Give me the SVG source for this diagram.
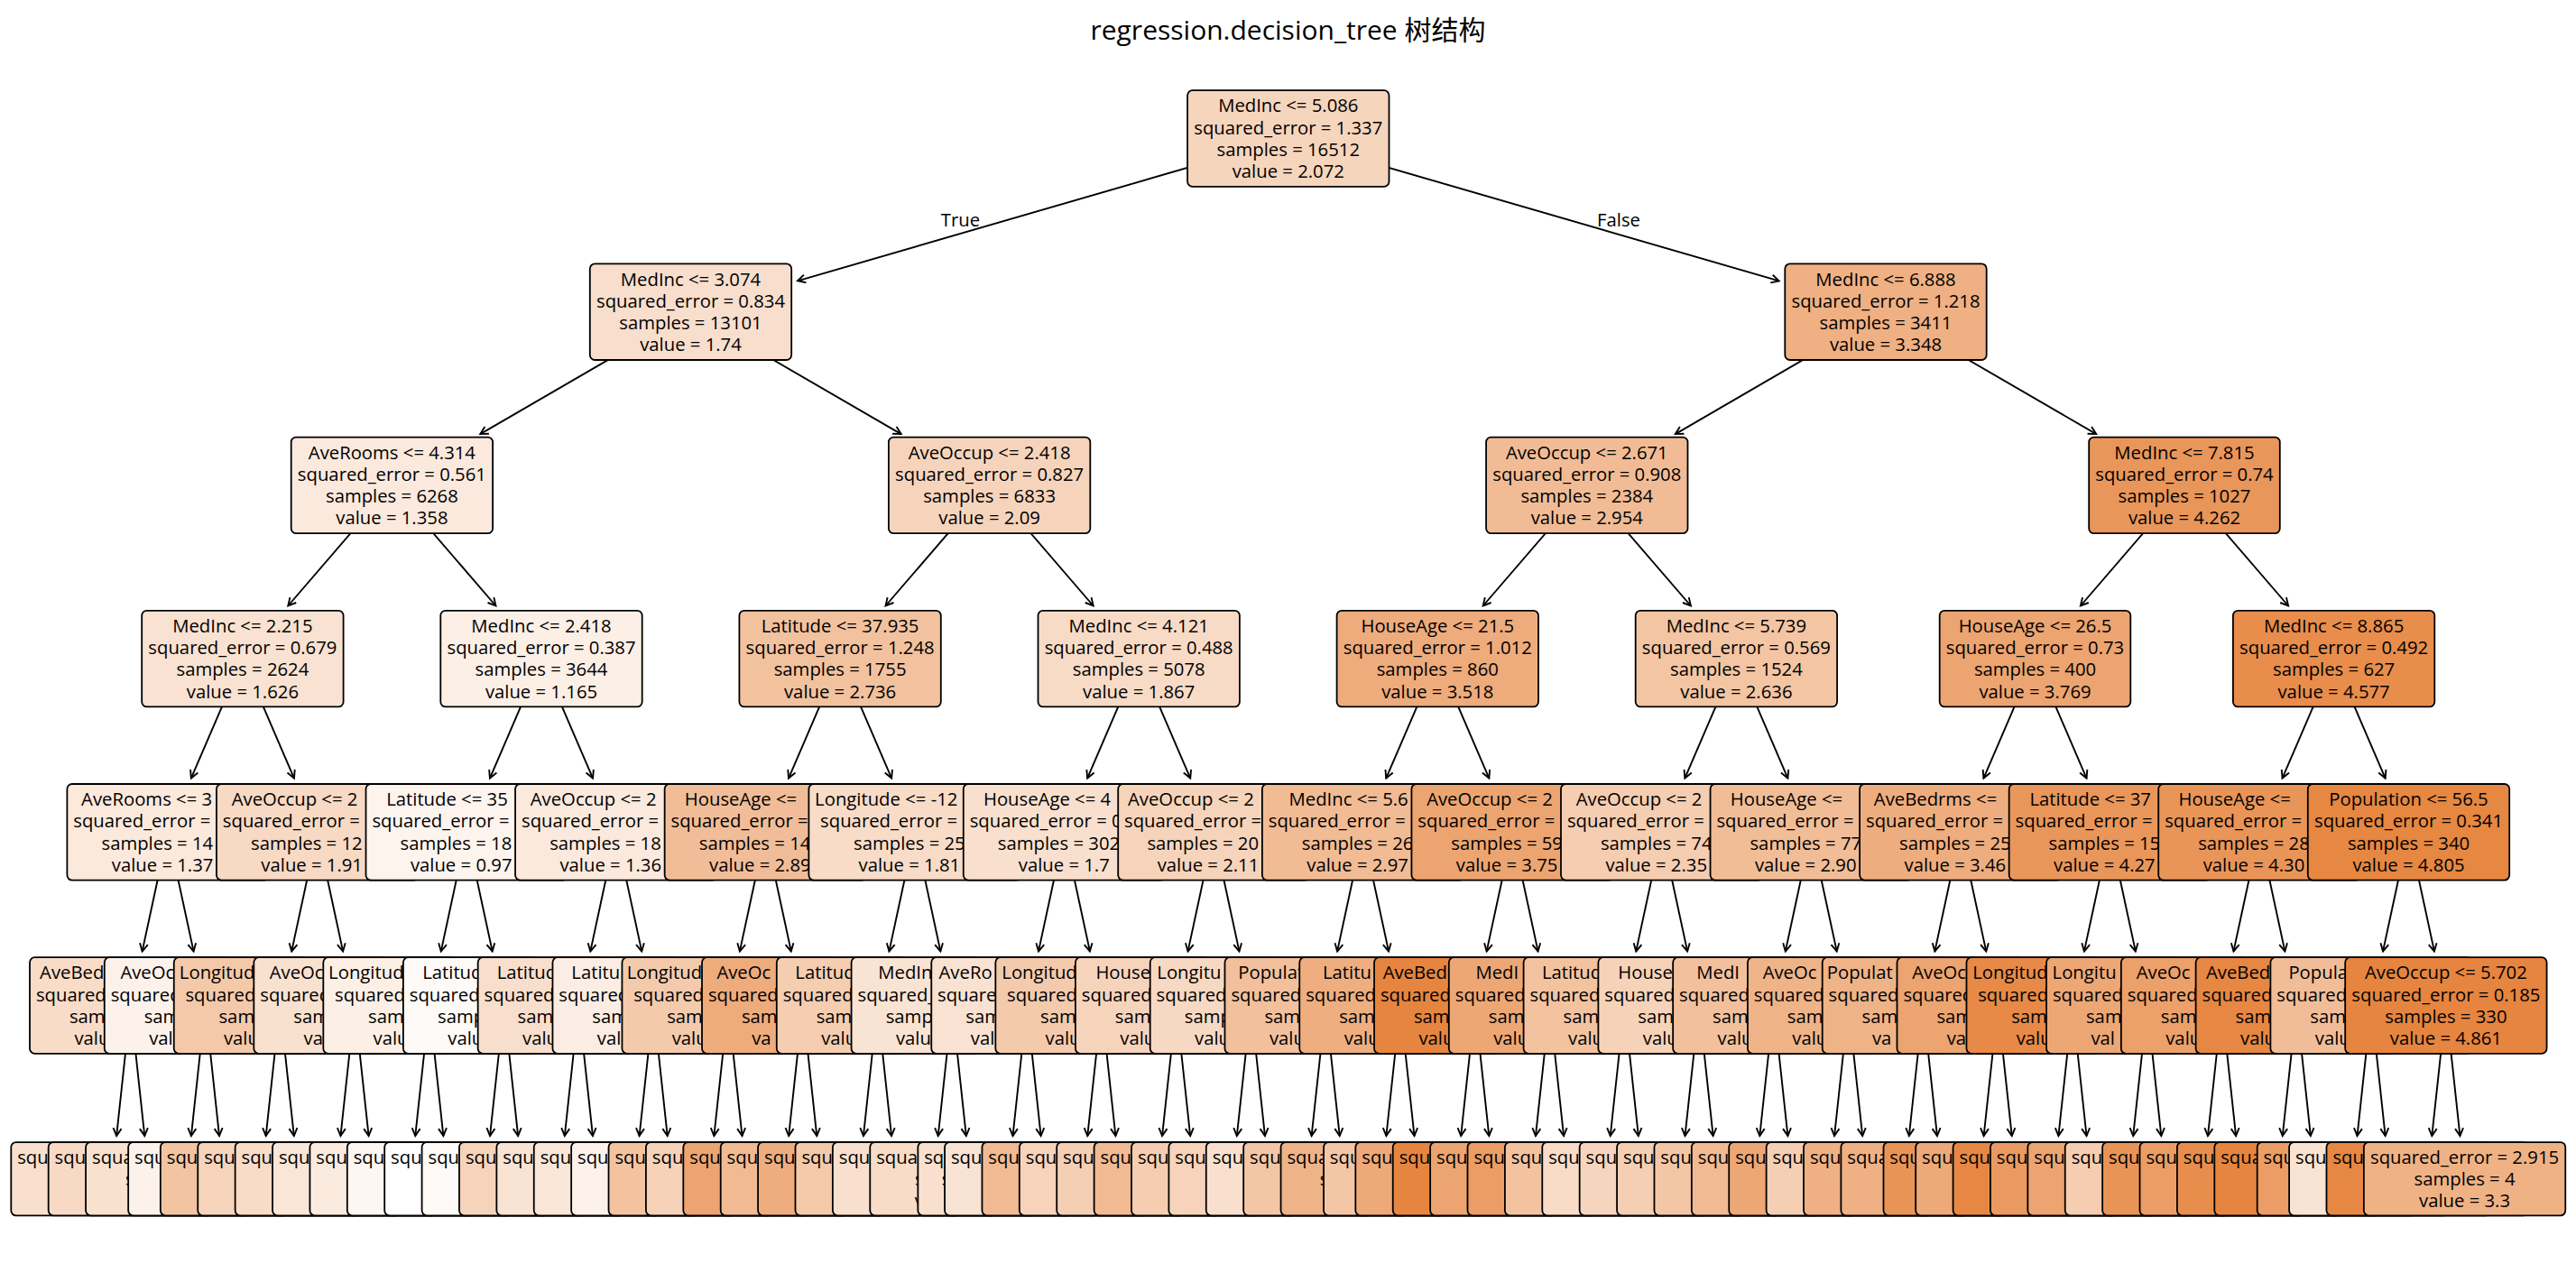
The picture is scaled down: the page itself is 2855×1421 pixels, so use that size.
<svg xmlns="http://www.w3.org/2000/svg" width="2855" height="1421" viewBox="0 0 2855 1421">
<defs>
<style>
.b{stroke:#000;stroke-width:1.8;rx:5.5px;ry:5.5px}
.t{font-family:"Open Sans","Noto Sans",sans-serif;font-size:20.3px;fill:#000}
.m{text-anchor:middle}
.ttl{font-family:"Open Sans","Noto Sans CJK SC",sans-serif;font-size:30px;fill:#000;text-anchor:middle}
#connectors line{stroke:#000;stroke-width:1.9;fill:none;marker-end:url(#ah)}
</style>
<marker id="ah" viewBox="-10 -6 12 12" markerWidth="12" markerHeight="12" refX="0" refY="0" orient="auto" markerUnits="userSpaceOnUse"><path d="M-8.5,-4.5 L0,0 L-8.5,4.5" fill="none" stroke="#000" stroke-width="1.9"/></marker>
</defs>
<rect width="2855" height="1421" fill="#fff"/>
<text class="ttl" x="1427.5" y="44">regression.decision_tree 树结构</text>
<g id="connectors">
<line x1="1427.8" y1="153.5" x2="884" y2="311.3"/>
<line x1="1427.8" y1="153.5" x2="1971.7" y2="311.4"/>
<line x1="765.5" y1="345.7" x2="532.3" y2="481.1"/>
<line x1="765.5" y1="345.7" x2="998.7" y2="481.1"/>
<line x1="2090" y1="345.7" x2="1856.8" y2="481.1"/>
<line x1="2090" y1="345.7" x2="2323.2" y2="481.1"/>
<line x1="434.4" y1="537.9" x2="319.3" y2="671.5"/>
<line x1="434.4" y1="537.9" x2="549.5" y2="671.5"/>
<line x1="1096.6" y1="537.9" x2="981.5" y2="671.5"/>
<line x1="1096.6" y1="537.9" x2="1211.7" y2="671.5"/>
<line x1="1758.8" y1="537.9" x2="1643.7" y2="671.5"/>
<line x1="1758.8" y1="537.9" x2="1873.9" y2="671.5"/>
<line x1="2421" y1="537.9" x2="2305.9" y2="671.5"/>
<line x1="2421" y1="537.9" x2="2536.1" y2="671.5"/>
<line x1="268.9" y1="730.1" x2="211.84" y2="862.6"/>
<line x1="268.9" y1="730.1" x2="325.96" y2="862.6"/>
<line x1="600" y1="730.1" x2="542.94" y2="862.6"/>
<line x1="600" y1="730.1" x2="657.06" y2="862.6"/>
<line x1="931.1" y1="730.1" x2="874.04" y2="862.6"/>
<line x1="931.1" y1="730.1" x2="988.16" y2="862.6"/>
<line x1="1262.2" y1="730.1" x2="1205.14" y2="862.6"/>
<line x1="1262.2" y1="730.1" x2="1319.26" y2="862.6"/>
<line x1="1593.3" y1="730.1" x2="1536.24" y2="862.6"/>
<line x1="1593.3" y1="730.1" x2="1650.36" y2="862.6"/>
<line x1="1924.4" y1="730.1" x2="1867.34" y2="862.6"/>
<line x1="1924.4" y1="730.1" x2="1981.46" y2="862.6"/>
<line x1="2255.5" y1="730.1" x2="2198.44" y2="862.6"/>
<line x1="2255.5" y1="730.1" x2="2312.56" y2="862.6"/>
<line x1="2586.6" y1="730.1" x2="2529.54" y2="862.6"/>
<line x1="2586.6" y1="730.1" x2="2643.66" y2="862.6"/>
<line x1="186.1" y1="922.3" x2="157.66" y2="1054.4"/>
<line x1="186.1" y1="922.3" x2="214.54" y2="1054.4"/>
<line x1="351.66" y1="922.3" x2="323.22" y2="1054.4"/>
<line x1="351.66" y1="922.3" x2="380.1" y2="1054.4"/>
<line x1="517.22" y1="922.3" x2="488.78" y2="1054.4"/>
<line x1="517.22" y1="922.3" x2="545.66" y2="1054.4"/>
<line x1="682.78" y1="922.3" x2="654.34" y2="1054.4"/>
<line x1="682.78" y1="922.3" x2="711.22" y2="1054.4"/>
<line x1="848.34" y1="922.3" x2="819.9" y2="1054.4"/>
<line x1="848.34" y1="922.3" x2="876.78" y2="1054.4"/>
<line x1="1013.9" y1="922.3" x2="985.46" y2="1054.4"/>
<line x1="1013.9" y1="922.3" x2="1042.34" y2="1054.4"/>
<line x1="1179.46" y1="922.3" x2="1151.02" y2="1054.4"/>
<line x1="1179.46" y1="922.3" x2="1207.9" y2="1054.4"/>
<line x1="1345.02" y1="922.3" x2="1316.58" y2="1054.4"/>
<line x1="1345.02" y1="922.3" x2="1373.46" y2="1054.4"/>
<line x1="1510.58" y1="922.3" x2="1482.14" y2="1054.4"/>
<line x1="1510.58" y1="922.3" x2="1539.02" y2="1054.4"/>
<line x1="1676.14" y1="922.3" x2="1647.7" y2="1054.4"/>
<line x1="1676.14" y1="922.3" x2="1704.58" y2="1054.4"/>
<line x1="1841.7" y1="922.3" x2="1813.26" y2="1054.4"/>
<line x1="1841.7" y1="922.3" x2="1870.14" y2="1054.4"/>
<line x1="2007.26" y1="922.3" x2="1978.82" y2="1054.4"/>
<line x1="2007.26" y1="922.3" x2="2035.7" y2="1054.4"/>
<line x1="2172.82" y1="922.3" x2="2144.38" y2="1054.4"/>
<line x1="2172.82" y1="922.3" x2="2201.26" y2="1054.4"/>
<line x1="2338.38" y1="922.3" x2="2309.94" y2="1054.4"/>
<line x1="2338.38" y1="922.3" x2="2366.82" y2="1054.4"/>
<line x1="2503.94" y1="922.3" x2="2475.5" y2="1054.4"/>
<line x1="2503.94" y1="922.3" x2="2532.38" y2="1054.4"/>
<line x1="2669.5" y1="922.3" x2="2641.06" y2="1054.4"/>
<line x1="2669.5" y1="922.3" x2="2697.94" y2="1054.4"/>
<line x1="144.7" y1="1114.5" x2="129.13" y2="1259.1"/>
<line x1="144.7" y1="1114.5" x2="160.27" y2="1259.1"/>
<line x1="227.48" y1="1114.5" x2="211.91" y2="1259.1"/>
<line x1="227.48" y1="1114.5" x2="243.05" y2="1259.1"/>
<line x1="310.26" y1="1114.5" x2="294.69" y2="1259.1"/>
<line x1="310.26" y1="1114.5" x2="325.83" y2="1259.1"/>
<line x1="393.04" y1="1114.5" x2="377.47" y2="1259.1"/>
<line x1="393.04" y1="1114.5" x2="408.61" y2="1259.1"/>
<line x1="475.82" y1="1114.5" x2="460.25" y2="1259.1"/>
<line x1="475.82" y1="1114.5" x2="491.39" y2="1259.1"/>
<line x1="558.6" y1="1114.5" x2="543.03" y2="1259.1"/>
<line x1="558.6" y1="1114.5" x2="574.17" y2="1259.1"/>
<line x1="641.38" y1="1114.5" x2="625.81" y2="1259.1"/>
<line x1="641.38" y1="1114.5" x2="656.95" y2="1259.1"/>
<line x1="724.16" y1="1114.5" x2="708.59" y2="1259.1"/>
<line x1="724.16" y1="1114.5" x2="739.73" y2="1259.1"/>
<line x1="806.94" y1="1114.5" x2="791.37" y2="1259.1"/>
<line x1="806.94" y1="1114.5" x2="822.51" y2="1259.1"/>
<line x1="889.72" y1="1114.5" x2="874.15" y2="1259.1"/>
<line x1="889.72" y1="1114.5" x2="905.29" y2="1259.1"/>
<line x1="972.5" y1="1114.5" x2="956.93" y2="1259.1"/>
<line x1="972.5" y1="1114.5" x2="988.07" y2="1259.1"/>
<line x1="1055.28" y1="1114.5" x2="1039.71" y2="1259.1"/>
<line x1="1055.28" y1="1114.5" x2="1070.85" y2="1259.1"/>
<line x1="1138.06" y1="1114.5" x2="1122.49" y2="1259.1"/>
<line x1="1138.06" y1="1114.5" x2="1153.63" y2="1259.1"/>
<line x1="1220.84" y1="1114.5" x2="1205.27" y2="1259.1"/>
<line x1="1220.84" y1="1114.5" x2="1236.41" y2="1259.1"/>
<line x1="1303.62" y1="1114.5" x2="1288.05" y2="1259.1"/>
<line x1="1303.62" y1="1114.5" x2="1319.19" y2="1259.1"/>
<line x1="1386.4" y1="1114.5" x2="1370.83" y2="1259.1"/>
<line x1="1386.4" y1="1114.5" x2="1401.97" y2="1259.1"/>
<line x1="1469.18" y1="1114.5" x2="1453.61" y2="1259.1"/>
<line x1="1469.18" y1="1114.5" x2="1484.75" y2="1259.1"/>
<line x1="1551.96" y1="1114.5" x2="1536.39" y2="1259.1"/>
<line x1="1551.96" y1="1114.5" x2="1567.53" y2="1259.1"/>
<line x1="1634.74" y1="1114.5" x2="1619.17" y2="1259.1"/>
<line x1="1634.74" y1="1114.5" x2="1650.31" y2="1259.1"/>
<line x1="1717.52" y1="1114.5" x2="1701.95" y2="1259.1"/>
<line x1="1717.52" y1="1114.5" x2="1733.09" y2="1259.1"/>
<line x1="1800.3" y1="1114.5" x2="1784.73" y2="1259.1"/>
<line x1="1800.3" y1="1114.5" x2="1815.87" y2="1259.1"/>
<line x1="1883.08" y1="1114.5" x2="1867.51" y2="1259.1"/>
<line x1="1883.08" y1="1114.5" x2="1898.65" y2="1259.1"/>
<line x1="1965.86" y1="1114.5" x2="1950.29" y2="1259.1"/>
<line x1="1965.86" y1="1114.5" x2="1981.43" y2="1259.1"/>
<line x1="2048.64" y1="1114.5" x2="2033.07" y2="1259.1"/>
<line x1="2048.64" y1="1114.5" x2="2064.21" y2="1259.1"/>
<line x1="2131.42" y1="1114.5" x2="2115.85" y2="1259.1"/>
<line x1="2131.42" y1="1114.5" x2="2146.99" y2="1259.1"/>
<line x1="2214.2" y1="1114.5" x2="2198.63" y2="1259.1"/>
<line x1="2214.2" y1="1114.5" x2="2229.77" y2="1259.1"/>
<line x1="2296.98" y1="1114.5" x2="2281.41" y2="1259.1"/>
<line x1="2296.98" y1="1114.5" x2="2312.55" y2="1259.1"/>
<line x1="2379.76" y1="1114.5" x2="2364.19" y2="1259.1"/>
<line x1="2379.76" y1="1114.5" x2="2395.33" y2="1259.1"/>
<line x1="2462.54" y1="1114.5" x2="2446.97" y2="1259.1"/>
<line x1="2462.54" y1="1114.5" x2="2478.11" y2="1259.1"/>
<line x1="2545.32" y1="1114.5" x2="2529.75" y2="1259.1"/>
<line x1="2545.32" y1="1114.5" x2="2560.89" y2="1259.1"/>
<line x1="2628.1" y1="1114.5" x2="2612.53" y2="1259.1"/>
<line x1="2628.1" y1="1114.5" x2="2643.67" y2="1259.1"/>
<line x1="2710.88" y1="1114.5" x2="2695.31" y2="1259.1"/>
<line x1="2710.88" y1="1114.5" x2="2726.45" y2="1259.1"/>
</g>
<g id="edge-labels">
<text class="t m" x="1064.5" y="251">True</text>
<text class="t m" x="1794" y="251">False</text>
</g>
<g id="nodes">
<g id="d0_0"><rect class="b" x="1316.1" y="100.2" width="223.4" height="106.6" fill="#f6d5bd"/><text class="t m"><tspan x="1427.8" y="124.3">MedInc &lt;= 5.086</tspan><tspan x="1427.8" y="148.5">squared_error = 1.337</tspan><tspan x="1427.8" y="172.7">samples = 16512</tspan><tspan x="1427.8" y="196.9">value = 2.072</tspan></text></g>
<g id="d1_0"><rect class="b" x="653.8" y="292.4" width="223.4" height="106.6" fill="#f8decc"/><text class="t m"><tspan x="765.5" y="316.5">MedInc &lt;= 3.074</tspan><tspan x="765.5" y="340.7">squared_error = 0.834</tspan><tspan x="765.5" y="364.9">samples = 13101</tspan><tspan x="765.5" y="389.1">value = 1.74</tspan></text></g>
<g id="d1_1"><rect class="b" x="1978.3" y="292.4" width="223.4" height="106.6" fill="#efb083"/><text class="t m"><tspan x="2090" y="316.5">MedInc &lt;= 6.888</tspan><tspan x="2090" y="340.7">squared_error = 1.218</tspan><tspan x="2090" y="364.9">samples = 3411</tspan><tspan x="2090" y="389.1">value = 3.348</tspan></text></g>
<g id="d2_0"><rect class="b" x="322.7" y="484.6" width="223.4" height="106.6" fill="#fbe9dd"/><text class="t m"><tspan x="434.4" y="508.7">AveRooms &lt;= 4.314</tspan><tspan x="434.4" y="532.9">squared_error = 0.561</tspan><tspan x="434.4" y="557.1">samples = 6268</tspan><tspan x="434.4" y="581.3">value = 1.358</tspan></text></g>
<g id="d2_1"><rect class="b" x="984.9" y="484.6" width="223.4" height="106.6" fill="#f6d4bc"/><text class="t m"><tspan x="1096.6" y="508.7">AveOccup &lt;= 2.418</tspan><tspan x="1096.6" y="532.9">squared_error = 0.827</tspan><tspan x="1096.6" y="557.1">samples = 6833</tspan><tspan x="1096.6" y="581.3">value = 2.09</tspan></text></g>
<g id="d2_2"><rect class="b" x="1647.1" y="484.6" width="223.4" height="106.6" fill="#f1bc95"/><text class="t m"><tspan x="1758.8" y="508.7">AveOccup &lt;= 2.671</tspan><tspan x="1758.8" y="532.9">squared_error = 0.908</tspan><tspan x="1758.8" y="557.1">samples = 2384</tspan><tspan x="1758.8" y="581.3">value = 2.954</tspan></text></g>
<g id="d2_3"><rect class="b" x="2315.2" y="484.6" width="211.6" height="106.6" fill="#e9965a"/><text class="t m"><tspan x="2421" y="508.7">MedInc &lt;= 7.815</tspan><tspan x="2421" y="532.9">squared_error = 0.74</tspan><tspan x="2421" y="557.1">samples = 1027</tspan><tspan x="2421" y="581.3">value = 4.262</tspan></text></g>
<g id="d3_0"><rect class="b" x="157.2" y="676.8" width="223.4" height="106.6" fill="#f9e2d1"/><text class="t m"><tspan x="268.9" y="700.9">MedInc &lt;= 2.215</tspan><tspan x="268.9" y="725.1">squared_error = 0.679</tspan><tspan x="268.9" y="749.3">samples = 2624</tspan><tspan x="268.9" y="773.5">value = 1.626</tspan></text></g>
<g id="d3_1"><rect class="b" x="488.3" y="676.8" width="223.4" height="106.6" fill="#fcefe6"/><text class="t m"><tspan x="600" y="700.9">MedInc &lt;= 2.418</tspan><tspan x="600" y="725.1">squared_error = 0.387</tspan><tspan x="600" y="749.3">samples = 3644</tspan><tspan x="600" y="773.5">value = 1.165</tspan></text></g>
<g id="d3_2"><rect class="b" x="819.4" y="676.8" width="223.4" height="106.6" fill="#f2c29f"/><text class="t m"><tspan x="931.1" y="700.9">Latitude &lt;= 37.935</tspan><tspan x="931.1" y="725.1">squared_error = 1.248</tspan><tspan x="931.1" y="749.3">samples = 1755</tspan><tspan x="931.1" y="773.5">value = 2.736</tspan></text></g>
<g id="d3_3"><rect class="b" x="1150.5" y="676.8" width="223.4" height="106.6" fill="#f8dbc6"/><text class="t m"><tspan x="1262.2" y="700.9">MedInc &lt;= 4.121</tspan><tspan x="1262.2" y="725.1">squared_error = 0.488</tspan><tspan x="1262.2" y="749.3">samples = 5078</tspan><tspan x="1262.2" y="773.5">value = 1.867</tspan></text></g>
<g id="d3_4"><rect class="b" x="1481.6" y="676.8" width="223.4" height="106.6" fill="#eeab7c"/><text class="t m"><tspan x="1593.3" y="700.9">HouseAge &lt;= 21.5</tspan><tspan x="1593.3" y="725.1">squared_error = 1.012</tspan><tspan x="1593.3" y="749.3">samples = 860</tspan><tspan x="1593.3" y="773.5">value = 3.518</tspan></text></g>
<g id="d3_5"><rect class="b" x="1812.7" y="676.8" width="223.4" height="106.6" fill="#f3c5a3"/><text class="t m"><tspan x="1924.4" y="700.9">MedInc &lt;= 5.739</tspan><tspan x="1924.4" y="725.1">squared_error = 0.569</tspan><tspan x="1924.4" y="749.3">samples = 1524</tspan><tspan x="1924.4" y="773.5">value = 2.636</tspan></text></g>
<g id="d3_6"><rect class="b" x="2149.7" y="676.8" width="211.6" height="106.6" fill="#eca470"/><text class="t m"><tspan x="2255.5" y="700.9">HouseAge &lt;= 26.5</tspan><tspan x="2255.5" y="725.1">squared_error = 0.73</tspan><tspan x="2255.5" y="749.3">samples = 400</tspan><tspan x="2255.5" y="773.5">value = 3.769</tspan></text></g>
<g id="d3_7"><rect class="b" x="2474.9" y="676.8" width="223.4" height="106.6" fill="#e88d4c"/><text class="t m"><tspan x="2586.6" y="700.9">MedInc &lt;= 8.865</tspan><tspan x="2586.6" y="725.1">squared_error = 0.492</tspan><tspan x="2586.6" y="749.3">samples = 627</tspan><tspan x="2586.6" y="773.5">value = 4.577</tspan></text></g>
<g id="d4_0"><rect class="b" x="74.4" y="869" width="223.4" height="106.6" fill="#fbe9dc"/><text class="t"><tspan x="90.1" y="893.1">AveRooms &lt;= 3</tspan><tspan x="81.3" y="917.3">squared_error =</tspan><tspan x="112.5" y="941.5">samples = 14</tspan><tspan x="123.8" y="965.7">value = 1.37</tspan></text></g>
<g id="d4_1"><rect class="b" x="239.96" y="869" width="223.4" height="106.6" fill="#f7d9c4"/><text class="t"><tspan x="256.7" y="893.1">AveOccup &lt;= 2</tspan><tspan x="246.86" y="917.3">squared_error =</tspan><tspan x="278.06" y="941.5">samples = 12</tspan><tspan x="289.36" y="965.7">value = 1.91</tspan></text></g>
<g id="d4_2"><rect class="b" x="405.52" y="869" width="223.4" height="106.6" fill="#fdf4ee"/><text class="t"><tspan x="428.2" y="893.1">Latitude &lt;= 35</tspan><tspan x="412.42" y="917.3">squared_error =</tspan><tspan x="443.62" y="941.5">samples = 18</tspan><tspan x="454.92" y="965.7">value = 0.97</tspan></text></g>
<g id="d4_3"><rect class="b" x="571.08" y="869" width="223.4" height="106.6" fill="#fbe9dd"/><text class="t"><tspan x="587.78" y="893.1">AveOccup &lt;= 2</tspan><tspan x="577.98" y="917.3">squared_error =</tspan><tspan x="609.18" y="941.5">samples = 18</tspan><tspan x="620.48" y="965.7">value = 1.36</tspan></text></g>
<g id="d4_4"><rect class="b" x="736.64" y="869" width="223.4" height="106.6" fill="#f1bd98"/><text class="t"><tspan x="758.84" y="893.1">HouseAge &lt;=</tspan><tspan x="743.54" y="917.3">squared_error =</tspan><tspan x="774.74" y="941.5">samples = 14</tspan><tspan x="786.04" y="965.7">value = 2.89</tspan></text></g>
<g id="d4_5"><rect class="b" x="896.4" y="869" width="235" height="106.6" fill="#f8dcc8"/><text class="t"><tspan x="903.1" y="893.1">Longitude &lt;= -12</tspan><tspan x="909.1" y="917.3">squared_error =</tspan><tspan x="946.1" y="941.5">samples = 25</tspan><tspan x="951.6" y="965.7">value = 1.81</tspan></text></g>
<g id="d4_6"><rect class="b" x="1067.76" y="869" width="223.4" height="106.6" fill="#f9e0ce"/><text class="t"><tspan x="1089.96" y="893.1">HouseAge &lt;= 4</tspan><tspan x="1074.66" y="917.3">squared_error = 0</tspan><tspan x="1105.86" y="941.5">samples = 302</tspan><tspan x="1128.8" y="965.7">value = 1.7</tspan></text></g>
<g id="d4_7"><rect class="b" x="1239.22" y="869" width="211.6" height="106.6" fill="#f6d4bb"/><text class="t"><tspan x="1250.02" y="893.1">AveOccup &lt;= 2</tspan><tspan x="1246" y="917.3">squared_error =</tspan><tspan x="1271.42" y="941.5">samples = 20</tspan><tspan x="1282.72" y="965.7">value = 2.11</tspan></text></g>
<g id="d4_8"><rect class="b" x="1398.88" y="869" width="223.4" height="106.6" fill="#f1bb94"/><text class="t"><tspan x="1428.58" y="893.1">MedInc &lt;= 5.6</tspan><tspan x="1405.78" y="917.3">squared_error =</tspan><tspan x="1442.78" y="941.5">samples = 26</tspan><tspan x="1448.28" y="965.7">value = 2.97</tspan></text></g>
<g id="d4_9"><rect class="b" x="1564.44" y="869" width="223.4" height="106.6" fill="#eca571"/><text class="t"><tspan x="1581.14" y="893.1">AveOccup &lt;= 2</tspan><tspan x="1571.34" y="917.3">squared_error =</tspan><tspan x="1608.34" y="941.5">samples = 59</tspan><tspan x="1613.84" y="965.7">value = 3.75</tspan></text></g>
<g id="d4_10"><rect class="b" x="1730" y="869" width="223.4" height="106.6" fill="#f5cdb0"/><text class="t"><tspan x="1746.7" y="893.1">AveOccup &lt;= 2</tspan><tspan x="1736.9" y="917.3">squared_error =</tspan><tspan x="1773.9" y="941.5">samples = 74</tspan><tspan x="1779.4" y="965.7">value = 2.35</tspan></text></g>
<g id="d4_11"><rect class="b" x="1895.56" y="869" width="223.4" height="106.6" fill="#f1bd97"/><text class="t"><tspan x="1917.76" y="893.1">HouseAge &lt;=</tspan><tspan x="1902.46" y="917.3">squared_error =</tspan><tspan x="1939.46" y="941.5">samples = 77</tspan><tspan x="1944.96" y="965.7">value = 2.90</tspan></text></g>
<g id="d4_12"><rect class="b" x="2061.12" y="869" width="223.4" height="106.6" fill="#eead7e"/><text class="t"><tspan x="2076.82" y="893.1">AveBedrms &lt;=</tspan><tspan x="2068.02" y="917.3">squared_error =</tspan><tspan x="2105.02" y="941.5">samples = 25</tspan><tspan x="2110.52" y="965.7">value = 3.46</tspan></text></g>
<g id="d4_13"><rect class="b" x="2226.68" y="869" width="223.4" height="106.6" fill="#e9965a"/><text class="t"><tspan x="2249.38" y="893.1">Latitude &lt;= 37</tspan><tspan x="2233.58" y="917.3">squared_error =</tspan><tspan x="2270.58" y="941.5">samples = 15</tspan><tspan x="2276.08" y="965.7">value = 4.27</tspan></text></g>
<g id="d4_14"><rect class="b" x="2392.24" y="869" width="223.4" height="106.6" fill="#e99558"/><text class="t"><tspan x="2414.44" y="893.1">HouseAge &lt;=</tspan><tspan x="2399.14" y="917.3">squared_error =</tspan><tspan x="2436.14" y="941.5">samples = 28</tspan><tspan x="2441.64" y="965.7">value = 4.30</tspan></text></g>
<g id="d4_15"><rect class="b" x="2557.8" y="869" width="223.4" height="106.6" fill="#e68742"/><text class="t m"><tspan x="2669.5" y="893.1">Population &lt;= 56.5</tspan><tspan x="2669.5" y="917.3">squared_error = 0.341</tspan><tspan x="2669.5" y="941.5">samples = 340</tspan><tspan x="2669.5" y="965.7">value = 4.805</tspan></text></g>
<g id="d5_0"><rect class="b" x="33" y="1061.2" width="223.4" height="106.6" fill="#f8dcc8"/><text class="t"><tspan x="44.1" y="1085.3">AveBed</tspan><tspan x="39.9" y="1109.5">squared</tspan><tspan x="76.9" y="1133.7">sam</tspan><tspan x="82.4" y="1157.9">valu</tspan></text></g>
<g id="d5_1"><rect class="b" x="115.78" y="1061.2" width="223.4" height="106.6" fill="#fcf2eb"/><text class="t"><tspan x="133.38" y="1085.3">AveOc</tspan><tspan x="122.68" y="1109.5">squared</tspan><tspan x="159.68" y="1133.7">sam</tspan><tspan x="165.18" y="1157.9">val</tspan></text></g>
<g id="d5_2"><rect class="b" x="192.76" y="1061.2" width="235" height="106.6" fill="#f4c9aa"/><text class="t"><tspan x="198.86" y="1085.3">Longitud</tspan><tspan x="205.46" y="1109.5">squared</tspan><tspan x="242.46" y="1133.7">sam</tspan><tspan x="247.96" y="1157.9">valu</tspan></text></g>
<g id="d5_3"><rect class="b" x="281.34" y="1061.2" width="223.4" height="106.6" fill="#f9e1cf"/><text class="t"><tspan x="298.74" y="1085.3">AveOc</tspan><tspan x="288.24" y="1109.5">squared</tspan><tspan x="325.24" y="1133.7">sam</tspan><tspan x="336.54" y="1157.9">va</tspan></text></g>
<g id="d5_4"><rect class="b" x="358.32" y="1061.2" width="235" height="106.6" fill="#fcefe5"/><text class="t"><tspan x="364.12" y="1085.3">Longitud</tspan><tspan x="371.02" y="1109.5">squared</tspan><tspan x="408.02" y="1133.7">sam</tspan><tspan x="413.52" y="1157.9">valu</tspan></text></g>
<g id="d5_5"><rect class="b" x="446.9" y="1061.2" width="223.4" height="106.6" fill="#fefaf7"/><text class="t"><tspan x="468.2" y="1085.3">Latitud</tspan><tspan x="453.8" y="1109.5">squared</tspan><tspan x="485" y="1133.7">samp</tspan><tspan x="496.3" y="1157.9">valu</tspan></text></g>
<g id="d5_6"><rect class="b" x="529.68" y="1061.2" width="223.4" height="106.6" fill="#f8decc"/><text class="t"><tspan x="550.78" y="1085.3">Latitud</tspan><tspan x="536.58" y="1109.5">squared</tspan><tspan x="573.58" y="1133.7">sam</tspan><tspan x="579.08" y="1157.9">valu</tspan></text></g>
<g id="d5_7"><rect class="b" x="612.46" y="1061.2" width="223.4" height="106.6" fill="#fbede3"/><text class="t"><tspan x="633.36" y="1085.3">Latitu</tspan><tspan x="619.36" y="1109.5">squared</tspan><tspan x="656.36" y="1133.7">sam</tspan><tspan x="661.86" y="1157.9">val</tspan></text></g>
<g id="d5_8"><rect class="b" x="689.44" y="1061.2" width="235" height="106.6" fill="#f4caac"/><text class="t"><tspan x="694.64" y="1085.3">Longitud</tspan><tspan x="702.14" y="1109.5">squared</tspan><tspan x="739.14" y="1133.7">sam</tspan><tspan x="744.64" y="1157.9">valu</tspan></text></g>
<g id="d5_9"><rect class="b" x="778.02" y="1061.2" width="223.4" height="106.6" fill="#eeac7c"/><text class="t"><tspan x="794.42" y="1085.3">AveOc</tspan><tspan x="784.92" y="1109.5">squared</tspan><tspan x="821.92" y="1133.7">sam</tspan><tspan x="833.22" y="1157.9">va</tspan></text></g>
<g id="d5_10"><rect class="b" x="860.8" y="1061.2" width="223.4" height="106.6" fill="#f5cdb0"/><text class="t"><tspan x="881.3" y="1085.3">Latitud</tspan><tspan x="867.7" y="1109.5">squared</tspan><tspan x="904.7" y="1133.7">sam</tspan><tspan x="910.2" y="1157.9">valu</tspan></text></g>
<g id="d5_11"><rect class="b" x="943.58" y="1061.2" width="223.4" height="106.6" fill="#f9e3d3"/><text class="t"><tspan x="973.28" y="1085.3">MedIn</tspan><tspan x="950.48" y="1109.5">squared_</tspan><tspan x="981.68" y="1133.7">samp</tspan><tspan x="992.98" y="1157.9">valu</tspan></text></g>
<g id="d5_12"><rect class="b" x="1032.26" y="1061.2" width="211.6" height="106.6" fill="#f9e2d1"/><text class="t"><tspan x="1040.56" y="1085.3">AveRo</tspan><tspan x="1039.06" y="1109.5">square</tspan><tspan x="1070.26" y="1133.7">sam</tspan><tspan x="1075.76" y="1157.9">val</tspan></text></g>
<g id="d5_13"><rect class="b" x="1103.34" y="1061.2" width="235" height="106.6" fill="#f4caac"/><text class="t"><tspan x="1110.34" y="1085.3">Longitud</tspan><tspan x="1116.04" y="1109.5">squared</tspan><tspan x="1153.04" y="1133.7">sam</tspan><tspan x="1158.54" y="1157.9">valu</tspan></text></g>
<g id="d5_14"><rect class="b" x="1191.92" y="1061.2" width="223.4" height="106.6" fill="#f6d4bc"/><text class="t"><tspan x="1214.42" y="1085.3">House</tspan><tspan x="1198.82" y="1109.5">squared</tspan><tspan x="1235.82" y="1133.7">sam</tspan><tspan x="1241.32" y="1157.9">valu</tspan></text></g>
<g id="d5_15"><rect class="b" x="1274.7" y="1061.2" width="223.4" height="106.6" fill="#f7d8c2"/><text class="t"><tspan x="1282.3" y="1085.3">Longitu</tspan><tspan x="1281.6" y="1109.5">squared</tspan><tspan x="1312.8" y="1133.7">samp</tspan><tspan x="1324.1" y="1157.9">valu</tspan></text></g>
<g id="d5_16"><rect class="b" x="1357.48" y="1061.2" width="223.4" height="106.6" fill="#f2c09c"/><text class="t"><tspan x="1372.28" y="1085.3">Populat</tspan><tspan x="1364.38" y="1109.5">squared</tspan><tspan x="1401.38" y="1133.7">sam</tspan><tspan x="1406.88" y="1157.9">valu</tspan></text></g>
<g id="d5_17"><rect class="b" x="1440.26" y="1061.2" width="223.4" height="106.6" fill="#eeae80"/><text class="t"><tspan x="1465.96" y="1085.3">Latitu</tspan><tspan x="1447.16" y="1109.5">squared</tspan><tspan x="1484.16" y="1133.7">sam</tspan><tspan x="1489.66" y="1157.9">valu</tspan></text></g>
<g id="d5_18"><rect class="b" x="1523.04" y="1061.2" width="223.4" height="106.6" fill="#e6853f"/><text class="t"><tspan x="1532.64" y="1085.3">AveBed</tspan><tspan x="1529.94" y="1109.5">squared</tspan><tspan x="1566.94" y="1133.7">sam</tspan><tspan x="1572.44" y="1157.9">valu</tspan></text></g>
<g id="d5_19"><rect class="b" x="1605.82" y="1061.2" width="223.4" height="106.6" fill="#eda774"/><text class="t"><tspan x="1635.42" y="1085.3">MedI</tspan><tspan x="1612.72" y="1109.5">squared</tspan><tspan x="1649.72" y="1133.7">sam</tspan><tspan x="1655.22" y="1157.9">valu</tspan></text></g>
<g id="d5_20"><rect class="b" x="1688.6" y="1061.2" width="223.4" height="106.6" fill="#f3c3a0"/><text class="t"><tspan x="1708.9" y="1085.3">Latitud</tspan><tspan x="1695.5" y="1109.5">squared</tspan><tspan x="1732.5" y="1133.7">sam</tspan><tspan x="1738" y="1157.9">valu</tspan></text></g>
<g id="d5_21"><rect class="b" x="1771.38" y="1061.2" width="223.4" height="106.6" fill="#f6d2b8"/><text class="t"><tspan x="1793.28" y="1085.3">House</tspan><tspan x="1778.28" y="1109.5">squared</tspan><tspan x="1815.28" y="1133.7">sam</tspan><tspan x="1820.78" y="1157.9">valu</tspan></text></g>
<g id="d5_22"><rect class="b" x="1854.16" y="1061.2" width="223.4" height="106.6" fill="#f2c09c"/><text class="t"><tspan x="1880.26" y="1085.3">MedI</tspan><tspan x="1861.06" y="1109.5">squared</tspan><tspan x="1898.06" y="1133.7">sam</tspan><tspan x="1903.56" y="1157.9">valu</tspan></text></g>
<g id="d5_23"><rect class="b" x="1936.94" y="1061.2" width="223.4" height="106.6" fill="#efb388"/><text class="t"><tspan x="1953.64" y="1085.3">AveOc</tspan><tspan x="1943.84" y="1109.5">squared</tspan><tspan x="1980.84" y="1133.7">sam</tspan><tspan x="1986.34" y="1157.9">valu</tspan></text></g>
<g id="d5_24"><rect class="b" x="2019.72" y="1061.2" width="223.4" height="106.6" fill="#efb388"/><text class="t"><tspan x="2024.82" y="1085.3">Populat</tspan><tspan x="2026.62" y="1109.5">squared</tspan><tspan x="2063.62" y="1133.7">sam</tspan><tspan x="2074.92" y="1157.9">va</tspan></text></g>
<g id="d5_25"><rect class="b" x="2102.5" y="1061.2" width="223.4" height="106.6" fill="#eca470"/><text class="t"><tspan x="2119.2" y="1085.3">AveOc</tspan><tspan x="2109.4" y="1109.5">squared</tspan><tspan x="2146.4" y="1133.7">sam</tspan><tspan x="2157.7" y="1157.9">va</tspan></text></g>
<g id="d5_26"><rect class="b" x="2179.48" y="1061.2" width="235" height="106.6" fill="#e78a47"/><text class="t"><tspan x="2186.28" y="1085.3">Longitud</tspan><tspan x="2192.18" y="1109.5">squared</tspan><tspan x="2229.18" y="1133.7">sam</tspan><tspan x="2234.68" y="1157.9">valu</tspan></text></g>
<g id="d5_27"><rect class="b" x="2268.06" y="1061.2" width="223.4" height="106.6" fill="#eda774"/><text class="t"><tspan x="2274.56" y="1085.3">Longitu</tspan><tspan x="2274.96" y="1109.5">squared</tspan><tspan x="2311.96" y="1133.7">sam</tspan><tspan x="2317.46" y="1157.9">val</tspan></text></g>
<g id="d5_28"><rect class="b" x="2350.84" y="1061.2" width="223.4" height="106.6" fill="#eca06a"/><text class="t"><tspan x="2367.74" y="1085.3">AveOc</tspan><tspan x="2357.74" y="1109.5">squared</tspan><tspan x="2394.74" y="1133.7">sam</tspan><tspan x="2400.24" y="1157.9">valu</tspan></text></g>
<g id="d5_29"><rect class="b" x="2433.62" y="1061.2" width="223.4" height="106.6" fill="#e68743"/><text class="t"><tspan x="2445.02" y="1085.3">AveBed</tspan><tspan x="2440.52" y="1109.5">squared</tspan><tspan x="2477.52" y="1133.7">sam</tspan><tspan x="2483.02" y="1157.9">valu</tspan></text></g>
<g id="d5_30"><rect class="b" x="2516.4" y="1061.2" width="223.4" height="106.6" fill="#f1bd98"/><text class="t"><tspan x="2536.4" y="1085.3">Popula</tspan><tspan x="2523.3" y="1109.5">squared</tspan><tspan x="2560.3" y="1133.7">sam</tspan><tspan x="2565.8" y="1157.9">valu</tspan></text></g>
<g id="d5_31"><rect class="b" x="2599.18" y="1061.2" width="223.4" height="106.6" fill="#e6853f"/><text class="t m"><tspan x="2710.88" y="1085.3">AveOccup &lt;= 5.702</tspan><tspan x="2710.88" y="1109.5">squared_error = 0.185</tspan><tspan x="2710.88" y="1133.7">samples = 330</tspan><tspan x="2710.88" y="1157.9">value = 4.861</tspan></text></g>
<g id="d6_0"><rect class="b" x="12.3" y="1266.05" width="223.4" height="81.3" fill="#f9e0ce"/><text class="t" x="19.2" y="1289.6">squ</text></g>
<g id="d6_1"><rect class="b" x="53.69" y="1266.05" width="223.4" height="81.3" fill="#f7d9c4"/><text class="t" x="60.59" y="1289.6">squ</text></g>
<g id="d6_2"><rect class="b" x="95.08" y="1266.05" width="223.4" height="81.3" fill="#f9e1cf"/><text class="t"><tspan x="101.98" y="1289.6">squa</tspan><tspan x="138.98" y="1313.8">s</tspan></text></g>
<g id="d6_3"><rect class="b" x="142.17" y="1266.05" width="212" height="81.3" fill="#fcf2eb"/><text class="t" x="148.97" y="1289.6">squ</text></g>
<g id="d6_4"><rect class="b" x="177.86" y="1266.05" width="223.4" height="81.3" fill="#f3c4a2"/><text class="t" x="184.76" y="1289.6">squ</text></g>
<g id="d6_5"><rect class="b" x="219.25" y="1266.05" width="223.4" height="81.3" fill="#f6d4bc"/><text class="t" x="226.15" y="1289.6">squ</text></g>
<g id="d6_6"><rect class="b" x="260.64" y="1266.05" width="223.4" height="81.3" fill="#f8dcc8"/><text class="t" x="267.54" y="1289.6">squ</text></g>
<g id="d6_7"><rect class="b" x="302.03" y="1266.05" width="223.4" height="81.3" fill="#fae6d7"/><text class="t" x="308.93" y="1289.6">squ</text></g>
<g id="d6_8"><rect class="b" x="343.42" y="1266.05" width="223.4" height="81.3" fill="#fbebdf"/><text class="t" x="350.32" y="1289.6">squ</text></g>
<g id="d6_9"><rect class="b" x="384.81" y="1266.05" width="223.4" height="81.3" fill="#fdf6f1"/><text class="t" x="391.71" y="1289.6">squ</text></g>
<g id="d6_10"><rect class="b" x="426.2" y="1266.05" width="223.4" height="81.3" fill="#ffffff"/><text class="t" x="433.1" y="1289.6">squ</text></g>
<g id="d6_11"><rect class="b" x="467.59" y="1266.05" width="223.4" height="81.3" fill="#fefaf7"/><text class="t" x="474.49" y="1289.6">squ</text></g>
<g id="d6_12"><rect class="b" x="508.98" y="1266.05" width="223.4" height="81.3" fill="#f6d4bc"/><text class="t" x="515.88" y="1289.6">squ</text></g>
<g id="d6_13"><rect class="b" x="550.37" y="1266.05" width="223.4" height="81.3" fill="#f9e3d3"/><text class="t" x="557.27" y="1289.6">squ</text></g>
<g id="d6_14"><rect class="b" x="591.76" y="1266.05" width="223.4" height="81.3" fill="#fae6d7"/><text class="t" x="598.66" y="1289.6">squ</text></g>
<g id="d6_15"><rect class="b" x="633.15" y="1266.05" width="223.4" height="81.3" fill="#fcf2eb"/><text class="t" x="640.05" y="1289.6">squ</text></g>
<g id="d6_16"><rect class="b" x="674.54" y="1266.05" width="223.4" height="81.3" fill="#f3c3a0"/><text class="t" x="681.44" y="1289.6">squ</text></g>
<g id="d6_17"><rect class="b" x="715.93" y="1266.05" width="223.4" height="81.3" fill="#f6d2b8"/><text class="t" x="722.83" y="1289.6">squ</text></g>
<g id="d6_18"><rect class="b" x="757.32" y="1266.05" width="223.4" height="81.3" fill="#eca470"/><text class="t" x="764.22" y="1289.6">squ</text></g>
<g id="d6_19"><rect class="b" x="798.71" y="1266.05" width="223.4" height="81.3" fill="#f1ba92"/><text class="t" x="805.61" y="1289.6">squ</text></g>
<g id="d6_20"><rect class="b" x="840.1" y="1266.05" width="223.4" height="81.3" fill="#eead7e"/><text class="t" x="847" y="1289.6">squ</text></g>
<g id="d6_21"><rect class="b" x="881.49" y="1266.05" width="223.4" height="81.3" fill="#f4c9aa"/><text class="t" x="888.39" y="1289.6">squ</text></g>
<g id="d6_22"><rect class="b" x="922.88" y="1266.05" width="223.4" height="81.3" fill="#f9e0ce"/><text class="t" x="929.78" y="1289.6">squ</text></g>
<g id="d6_23"><rect class="b" x="964.27" y="1266.05" width="223.4" height="81.3" fill="#f8dcc8"/><text class="t"><tspan x="971.17" y="1289.6">squa</tspan><tspan x="1013.97" y="1313.8">s</tspan><tspan x="1013.67" y="1338">v</tspan></text></g>
<g id="d6_24"><rect class="b" x="1017.36" y="1266.05" width="200" height="81.3" fill="#f9e0ce"/><text class="t"><tspan x="1024.16" y="1289.6">sq</tspan><tspan x="1043.76" y="1313.8">s</tspan></text></g>
<g id="d6_25"><rect class="b" x="1047.05" y="1266.05" width="223.4" height="81.3" fill="#f9e3d3"/><text class="t" x="1053.95" y="1289.6">squ</text></g>
<g id="d6_26"><rect class="b" x="1088.44" y="1266.05" width="223.4" height="81.3" fill="#f1ba92"/><text class="t" x="1095.34" y="1289.6">squ</text></g>
<g id="d6_27"><rect class="b" x="1129.83" y="1266.05" width="223.4" height="81.3" fill="#f6d3ba"/><text class="t" x="1136.73" y="1289.6">squ</text></g>
<g id="d6_28"><rect class="b" x="1171.22" y="1266.05" width="223.4" height="81.3" fill="#f5cfb4"/><text class="t" x="1178.12" y="1289.6">squ</text></g>
<g id="d6_29"><rect class="b" x="1212.61" y="1266.05" width="223.4" height="81.3" fill="#f1ba92"/><text class="t" x="1219.51" y="1289.6">squ</text></g>
<g id="d6_30"><rect class="b" x="1254" y="1266.05" width="223.4" height="81.3" fill="#f5cdb0"/><text class="t" x="1260.9" y="1289.6">squ</text></g>
<g id="d6_31"><rect class="b" x="1295.39" y="1266.05" width="223.4" height="81.3" fill="#f6d3ba"/><text class="t" x="1302.29" y="1289.6">squ</text></g>
<g id="d6_32"><rect class="b" x="1336.78" y="1266.05" width="223.4" height="81.3" fill="#f9e0ce"/><text class="t" x="1343.68" y="1289.6">squ</text></g>
<g id="d6_33"><rect class="b" x="1378.17" y="1266.05" width="223.4" height="81.3" fill="#f3c6a6"/><text class="t" x="1385.07" y="1289.6">squ</text></g>
<g id="d6_34"><rect class="b" x="1419.56" y="1266.05" width="223.4" height="81.3" fill="#efb388"/><text class="t"><tspan x="1426.46" y="1289.6">squa</tspan><tspan x="1462.76" y="1313.8">s</tspan></text></g>
<g id="d6_35"><rect class="b" x="1467.05" y="1266.05" width="211.2" height="81.3" fill="#f3c6a6"/><text class="t" x="1473.85" y="1289.6">squ</text></g>
<g id="d6_36"><rect class="b" x="1502.34" y="1266.05" width="223.4" height="81.3" fill="#eda978"/><text class="t" x="1509.24" y="1289.6">squ</text></g>
<g id="d6_37"><rect class="b" x="1543.73" y="1266.05" width="223.4" height="81.3" fill="#e6853f"/><text class="t" x="1550.63" y="1289.6">squ</text></g>
<g id="d6_38"><rect class="b" x="1585.12" y="1266.05" width="223.4" height="81.3" fill="#eca470"/><text class="t" x="1592.02" y="1289.6">squ</text></g>
<g id="d6_39"><rect class="b" x="1626.51" y="1266.05" width="223.4" height="81.3" fill="#eb9d65"/><text class="t" x="1633.41" y="1289.6">squ</text></g>
<g id="d6_40"><rect class="b" x="1667.9" y="1266.05" width="223.4" height="81.3" fill="#f3c3a0"/><text class="t" x="1674.8" y="1289.6">squ</text></g>
<g id="d6_41"><rect class="b" x="1709.29" y="1266.05" width="223.4" height="81.3" fill="#f8dcc8"/><text class="t" x="1716.19" y="1289.6">squ</text></g>
<g id="d6_42"><rect class="b" x="1750.68" y="1266.05" width="223.4" height="81.3" fill="#f6d5be"/><text class="t" x="1757.58" y="1289.6">squ</text></g>
<g id="d6_43"><rect class="b" x="1792.07" y="1266.05" width="223.4" height="81.3" fill="#f5cfb4"/><text class="t" x="1798.97" y="1289.6">squ</text></g>
<g id="d6_44"><rect class="b" x="1833.46" y="1266.05" width="223.4" height="81.3" fill="#f3c6a6"/><text class="t" x="1840.36" y="1289.6">squ</text></g>
<g id="d6_45"><rect class="b" x="1874.85" y="1266.05" width="223.4" height="81.3" fill="#f1ba92"/><text class="t" x="1881.75" y="1289.6">squ</text></g>
<g id="d6_46"><rect class="b" x="1916.24" y="1266.05" width="223.4" height="81.3" fill="#eda774"/><text class="t" x="1923.14" y="1289.6">squ</text></g>
<g id="d6_47"><rect class="b" x="1957.63" y="1266.05" width="223.4" height="81.3" fill="#f5cfb4"/><text class="t" x="1964.53" y="1289.6">squ</text></g>
<g id="d6_48"><rect class="b" x="1999.02" y="1266.05" width="223.4" height="81.3" fill="#efb184"/><text class="t" x="2005.92" y="1289.6">squ</text></g>
<g id="d6_49"><rect class="b" x="2040.41" y="1266.05" width="223.4" height="81.3" fill="#efb184"/><text class="t" x="2047.31" y="1289.6">squa</text></g>
<g id="d6_50"><rect class="b" x="2087.5" y="1266.05" width="212" height="81.3" fill="#e99457"/><text class="t" x="2094.3" y="1289.6">squ</text></g>
<g id="d6_51"><rect class="b" x="2123.19" y="1266.05" width="223.4" height="81.3" fill="#eda978"/><text class="t" x="2130.09" y="1289.6">squ</text></g>
<g id="d6_52"><rect class="b" x="2164.58" y="1266.05" width="223.4" height="81.3" fill="#e68743"/><text class="t" x="2171.48" y="1289.6">squ</text></g>
<g id="d6_53"><rect class="b" x="2205.97" y="1266.05" width="223.4" height="81.3" fill="#ea9a61"/><text class="t" x="2212.87" y="1289.6">squ</text></g>
<g id="d6_54"><rect class="b" x="2247.36" y="1266.05" width="223.4" height="81.3" fill="#eca470"/><text class="t" x="2254.26" y="1289.6">squ</text></g>
<g id="d6_55"><rect class="b" x="2288.75" y="1266.05" width="223.4" height="81.3" fill="#f5cdb0"/><text class="t" x="2295.65" y="1289.6">squ</text></g>
<g id="d6_56"><rect class="b" x="2330.14" y="1266.05" width="223.4" height="81.3" fill="#e99457"/><text class="t" x="2337.04" y="1289.6">squ</text></g>
<g id="d6_57"><rect class="b" x="2371.53" y="1266.05" width="223.4" height="81.3" fill="#eb9d65"/><text class="t" x="2378.43" y="1289.6">squ</text></g>
<g id="d6_58"><rect class="b" x="2412.92" y="1266.05" width="223.4" height="81.3" fill="#e88e4d"/><text class="t" x="2419.82" y="1289.6">squ</text></g>
<g id="d6_59"><rect class="b" x="2454.31" y="1266.05" width="223.4" height="81.3" fill="#e6853f"/><text class="t" x="2461.21" y="1289.6">squa</text></g>
<g id="d6_60"><rect class="b" x="2501.7" y="1266.05" width="211.4" height="81.3" fill="#eb9d65"/><text class="t" x="2508.5" y="1289.6">squ</text></g>
<g id="d6_61"><rect class="b" x="2537.09" y="1266.05" width="223.4" height="81.3" fill="#f9e3d3"/><text class="t" x="2543.99" y="1289.6">squ</text></g>
<g id="d6_62"><rect class="b" x="2578.48" y="1266.05" width="223.4" height="81.3" fill="#e68743"/><text class="t" x="2585.38" y="1289.6">squ</text></g>
<g id="d6_63"><rect class="b" x="2619.87" y="1266.05" width="223.4" height="81.3" fill="#efb285"/><text class="t m"><tspan x="2731.57" y="1289.6">squared_error = 2.915</tspan><tspan x="2731.57" y="1313.8">samples = 4</tspan><tspan x="2731.57" y="1338">value = 3.3</tspan></text></g>
</g>
</svg>
